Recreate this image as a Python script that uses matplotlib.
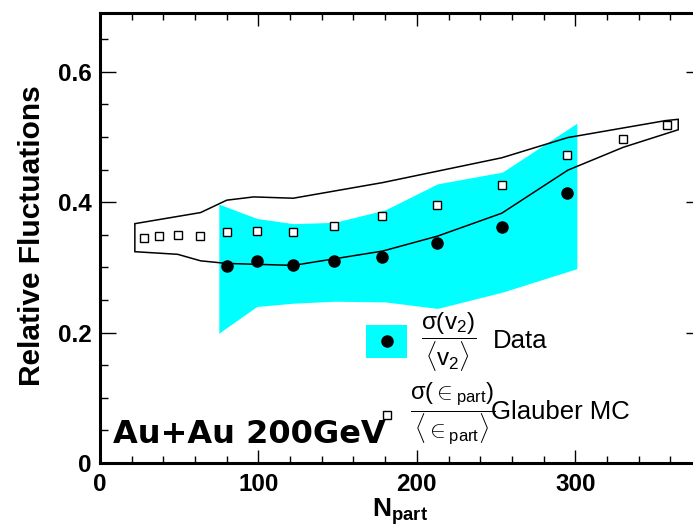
import matplotlib
matplotlib.use("Agg")
import matplotlib.pyplot as plt
from matplotlib.patches import Rectangle, Polygon
from matplotlib.lines import Line2D
from matplotlib.ticker import MultipleLocator

plt.rcParams["mathtext.fontset"] = "custom"
plt.rcParams["mathtext.rm"] = "Liberation Sans"
plt.rcParams["mathtext.it"] = "Liberation Sans"
plt.rcParams["mathtext.bf"] = "Liberation Sans:bold"
plt.rcParams["mathtext.sf"] = "Liberation Sans"

# Measured sigma(v2)/<v2> (STAR Au+Au 200 GeV)
npart_data = [80, 99, 122, 148, 178, 213, 254, 295]
fluct_data = [0.302, 0.310, 0.304, 0.310, 0.316, 0.337, 0.362, 0.414]

# Systematic band of the measurement
band_x = [75, 99, 122, 148, 180, 213, 254, 301]
band_hi = [0.397, 0.375, 0.367, 0.369, 0.388, 0.428, 0.446, 0.521]
band_lo = [0.199, 0.240, 0.245, 0.248, 0.247, 0.237, 0.262, 0.298]

# Glauber MC sigma(eps_part)/<eps_part>
npart_mc = [28, 37, 49, 63, 80, 99, 122, 148, 178, 213, 254, 295, 330, 358]
fluct_mc = [0.345, 0.348, 0.350, 0.348, 0.354, 0.356, 0.354, 0.364,
            0.378, 0.396, 0.426, 0.472, 0.497, 0.518]

# Glauber MC uncertainty envelope
env_x_hi = [22, 63.5, 80, 97, 122, 178.5, 253.6, 295.3, 357, 365]
env_y_hi = [0.367, 0.384, 0.403, 0.408, 0.406, 0.430, 0.468, 0.499, 0.525, 0.527]
env_x_lo = [22, 49, 63.5, 80, 122, 178.5, 213.2, 253.6, 295.3, 330.2, 365]
env_y_lo = [0.324, 0.320, 0.310, 0.306, 0.303, 0.325, 0.348, 0.383, 0.449, 0.484, 0.511]

W, H = 693, 530
fig = plt.figure(figsize=(W / 100, H / 100), dpi=100)
fig.patch.set_facecolor("white")

def fx(px):
    return px / W

def fy(py):
    return 1 - py / H

ax = fig.add_axes([fx(100), fy(463), (702 - 100) / W, (463 - 13) / H])
ax.set_xlim(0, 380)
ax.set_ylim(0, 0.69)

# data band and points
ax.fill_between(band_x, band_lo, band_hi, color="#00FFFF", lw=0, zorder=1)
ax.plot(npart_data, fluct_data, "o", color="black", ms=8, zorder=4)

# Glauber envelope outline
poly = list(zip(env_x_hi, env_y_hi)) + list(zip(env_x_lo[::-1], env_y_lo[::-1]))
ax.add_patch(Polygon(poly, closed=True, fill=False, edgecolor="black", lw=1.1, zorder=3))
ax.plot(npart_mc, fluct_mc, "s", mfc="white", mec="black", mew=1.0, ms=6, zorder=5)

# axes styling
for side in ["left", "bottom", "top", "right"]:
    ax.spines[side].set_linewidth(2.2)
ax.xaxis.set_major_locator(MultipleLocator(100))
ax.xaxis.set_minor_locator(MultipleLocator(20))
ax.yaxis.set_major_locator(MultipleLocator(0.2))
ax.yaxis.set_minor_locator(MultipleLocator(0.05))
ax.tick_params(axis="both", which="both", direction="in", top=True, right=True, width=1.0)
ax.tick_params(axis="x", which="major", length=9.5, pad=7)
ax.tick_params(axis="x", which="minor", length=4.7)
ax.tick_params(axis="y", which="major", length=11.5, pad=6)
ax.tick_params(axis="y", which="minor", length=5.8)
ax.set_xticks([0, 100, 200, 300])
ax.set_xticklabels(["0", "100", "200", "300"])
ax.set_yticks([0, 0.2, 0.4, 0.6])
ax.set_yticklabels(["0", "0.2", "0.4", "0.6"])
for lab in ax.get_xticklabels() + ax.get_yticklabels():
    lab.set_fontfamily("Liberation Sans")
    lab.set_fontweight("bold")
    lab.set_fontsize(17.5)

fig.text(fx(32), fy(236), "Relative Fluctuations", rotation=90, ha="center", va="center",
         fontfamily="Liberation Sans", fontweight="bold", fontsize=21.5)
fig.text(fx(400), fy(512), r"$\mathbf{N}_{\mathbf{part}}$", ha="center", va="center", fontsize=19)

ax.text(8.2, 0.031, "Au+Au 200GeV", fontfamily="DejaVu Sans", fontweight="bold",
        fontsize=23, ha="left", va="baseline", zorder=6)

# legend
fig.add_artist(Rectangle((fx(366), fy(358)), fx(407) - fx(366), fy(325) - fy(358),
                         transform=fig.transFigure, facecolor="#00FFFF", edgecolor="none"))
fig.add_artist(Line2D([fx(387)], [fy(341)], marker="o", color="black", ms=8,
                      transform=fig.transFigure))
fig.text(fx(449), fy(342), r"$\dfrac{\sigma(\mathrm{v}_2)}{\langle \mathrm{v}_2 \rangle}$",
         ha="center", va="center", fontsize=17.5)
fig.text(fx(493), fy(341), "Data", ha="left", va="center",
         fontfamily="Liberation Sans", fontsize=18.5)

fig.add_artist(Line2D([fx(387)], [fy(415)], marker="s", mfc="white", mec="black", mew=1.0,
                      ms=6, transform=fig.transFigure))
fig.text(fx(453), fy(414),
         r"$\dfrac{\sigma(\in_{\mathrm{part}})}{\langle \in_{\mathrm{part}} \rangle}$",
         ha="center", va="center", fontsize=17)
fig.text(fx(491), fy(412), "Glauber MC", ha="left", va="center",
         fontfamily="Liberation Sans", fontsize=18.5)

fig.savefig("out.png", dpi=100, facecolor="white")
